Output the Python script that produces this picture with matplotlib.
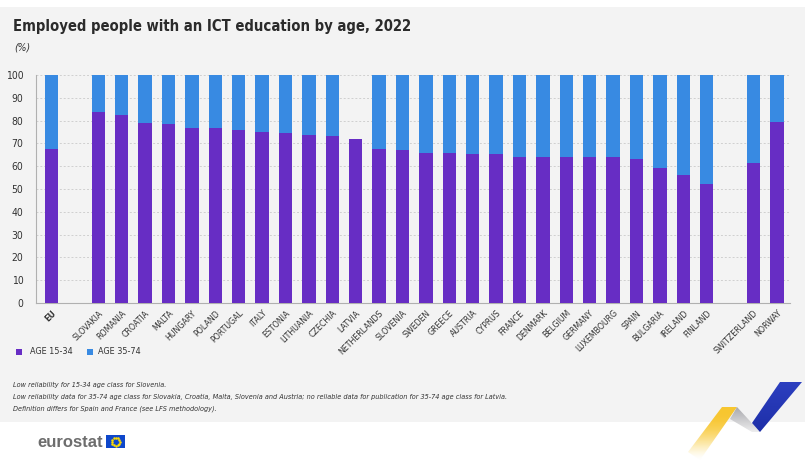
import numpy as np
import matplotlib
matplotlib.use("Agg")
import matplotlib.pyplot as plt
from matplotlib.patches import Rectangle, Polygon

plt.rcParams['font.family'] = ['DejaVu Sans']
plt.rcParams['font.stretch'] = 'condensed'

countries = ["EU", "SLOVAKIA", "ROMANIA", "CROATIA", "MALTA", "HUNGARY", "POLAND",
             "PORTUGAL", "ITALY", "ESTONIA", "LITHUANIA", "CZECHIA", "LATVIA",
             "NETHERLANDS", "SLOVENIA", "SWEDEN", "GREECE", "AUSTRIA", "CYPRUS",
             "FRANCE", "DENMARK", "BELGIUM", "GERMANY", "LUXEMBOURG", "SPAIN",
             "BULGARIA", "IRELAND", "FINLAND", "SWITZERLAND", "NORWAY"]
age_15_34 = [67.6, 83.8, 82.3, 79.1, 78.4, 76.6, 76.6, 75.9, 75.2, 74.7, 73.7, 73.3,
             72.1, 67.4, 67.2, 66.0, 65.7, 65.4, 65.3, 64.2, 64.2, 64.2, 64.0, 64.0,
             63.1, 59.4, 56.1, 52.3, 61.2, 79.4]
# Latvia: no reliable data for 35-74
age_35_74 = [32.4, 16.2, 17.7, 20.9, 21.6, 23.4, 23.4, 24.1, 24.8, 25.3, 26.3, 26.7,
             0.0, 32.6, 32.8, 34.0, 34.3, 34.6, 34.7, 35.8, 35.8, 35.8, 36.0, 36.0,
             36.9, 40.6, 43.9, 47.7, 38.8, 20.6]

purple = "#672DC4"
blue = "#388AE2"

# gap after EU and before the non-EU countries
pos = []
p = 0
for c in countries:
    if c == "SLOVAKIA" or c == "SWITZERLAND":
        p += 1
    pos.append(p)
    p += 1
pos = np.array(pos)

W, H = 811, 465
fig = plt.figure(figsize=(W / 100, H / 100), dpi=100)
fig.patch.set_facecolor("white")

# background layer in pixel coords
bg = fig.add_axes([0, 0, 1, 1], zorder=-10)
bg.axis("off")
bg.add_patch(Rectangle((0, 7), 805, 415, facecolor="#F3F3F3", edgecolor="none"))

ax = fig.add_axes([36 / W, 1 - 303 / H, (790 - 36) / W, (303 - 75) / H])
ax.set_facecolor("none")
ax.bar(pos, age_15_34, width=0.57, color=purple, zorder=3)
ax.bar(pos, age_35_74, width=0.57, bottom=age_15_34, color=blue, zorder=3)

ax.set_ylim(0, 100)
ax.set_xlim(-0.66, 31.56)
ax.set_yticks(range(0, 101, 10))
ax.yaxis.grid(True, linestyle=(0, (2, 2)), color="#cfcfcf", linewidth=0.7, zorder=0)
ax.tick_params(axis="y", length=0, labelsize=7.5, colors="#333333", pad=9)
ax.tick_params(axis="x", length=0, labelsize=6.3, colors="#333333", pad=4)
for s in ["top", "right"]:
    ax.spines[s].set_visible(False)
ax.spines["left"].set_color("#b0b0b0")
ax.spines["bottom"].set_color("#b0b0b0")
ax.set_xticks(pos)
ax.set_xticklabels(countries, rotation=45, ha="right", rotation_mode="anchor")
ax.get_xticklabels()[0].set_fontweight("bold")

fig.text(13 / W, 1 - 27 / H, "Employed people with an ICT education by age, 2022",
         fontsize=10.6, fontweight="bold", color="#2b2b2b", va="center")
fig.text(14 / W, 1 - 47 / H, "(%)", fontsize=7.5, style="italic", color="#333333",
         va="center")

# legend
bg.add_patch(Rectangle((16, 349), 6, 6, facecolor=purple, edgecolor="none"))
fig.text(30 / W, 1 - 352 / H, "AGE 15-34", fontsize=6.5, color="#333333", va="center")
bg.add_patch(Rectangle((87, 349), 6, 6, facecolor=blue, edgecolor="none"))
fig.text(98 / W, 1 - 352 / H, "AGE 35-74", fontsize=6.5, color="#333333", va="center")

notes = ["Low reliability for 15-34 age class for Slovenia.",
         "Low reliability data for 35-74 age class for Slovakia, Croatia, Malta, Slovenia and Austria; "
         "no reliable data for publication for 35-74 age class for Latvia.",
         "Definition differs for Spain and France (see LFS methodology)."]
for k, n in enumerate(notes):
    fig.text(13 / W, 1 - (385 + 12 * k) / H, n, fontsize=5.2, style="italic",
             color="#333333", va="center")

# eurostat logo
fig.text(37 / W, 1 - 442 / H, "eurostat", fontsize=12, fontweight="bold",
         color="#6d6d6d", va="center", family=["Liberation Sans", "DejaVu Sans"],
         stretch="normal")
bg.add_patch(Rectangle((106, 435), 19, 13, facecolor="#0E47CB", edgecolor="none"))
ang = np.linspace(0, 2 * np.pi, 13)[:-1]
bg.plot(115.5 + 4 * np.cos(ang), 441.5 + 4 * np.sin(ang), "o", ms=0.8, color="#FFDD00")

# ribbon decoration with vertical fades
def ribbon(pts, c_top, c_bot, y0, y1, power=1.0):
    poly = Polygon(pts, closed=True, facecolor="none", edgecolor="none")
    bg.add_patch(poly)
    grad = np.linspace(0, 1, 64)[:, None] ** power
    ct = np.array(matplotlib.colors.to_rgba(c_top))
    cb = np.array(matplotlib.colors.to_rgba(c_bot))
    img = ct[None, None, :] * (1 - grad[..., None]) + cb[None, None, :] * grad[..., None]
    xs = [q[0] for q in pts]
    im = bg.imshow(img, extent=(min(xs), max(xs), y1, y0), aspect="auto",
                   interpolation="bilinear", zorder=2)
    im.set_clip_path(poly)

ribbon([(722, 407), (737, 407), (700, 460), (688, 452)], "#F8C62E", (1, 0.97, 0.85, 0.0),
       407, 460, power=2.5)
ribbon([(730, 419), (737, 407), (760, 432), (752, 432)], "#A9A9AD", "#EDEDEE", 407, 432)
ribbon([(780, 382), (802, 382), (760, 432), (752, 423)], "#2C3FC0", "#1E2FA8", 382, 432)
bg.set_xlim(0, W)
bg.set_ylim(H, 0)

fig.savefig("out.png", dpi=100, facecolor=fig.get_facecolor())
